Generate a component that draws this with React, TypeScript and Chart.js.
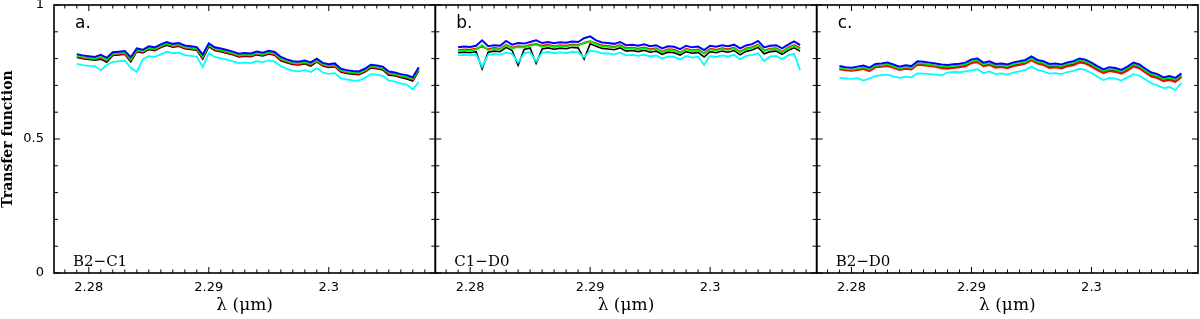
import React, { useEffect, useRef } from 'react';
import { Chart, registerables } from 'chart.js';

Chart.register(...registerables);

// Wavelength grid (micron)
const WAVELENGTH = [2.2790, 2.2795, 2.2800, 2.2805, 2.2810, 2.2815, 2.2820, 2.2825, 2.2830, 2.2835, 2.2840, 2.2845, 2.2850, 2.2855, 2.2860, 2.2865, 2.2870, 2.2875, 2.2880, 2.2885, 2.2890, 2.2895, 2.2900, 2.2905, 2.2910, 2.2915, 2.2920, 2.2925, 2.2930, 2.2935, 2.2940, 2.2945, 2.2950, 2.2955, 2.2960, 2.2965, 2.2970, 2.2975, 2.2980, 2.2985, 2.2990, 2.2995, 2.3000, 2.3005, 2.3010, 2.3015, 2.3020, 2.3025, 2.3030, 2.3035, 2.3040, 2.3045, 2.3050, 2.3055, 2.3060, 2.3065, 2.3070, 2.3075];

const PANEL_TAGS = ['a.', 'b.', 'c.'];
const BASELINES = ['B2\u2212C1', 'C1\u2212D0', 'B2\u2212D0'];
const X_TICK_LABELS = ['2.28', '2.29', '2.3'];
const Y_TICK_LABELS = ['0', '0.5', '1'];
const X_TITLE = '\u03bb (\u03bcm)';
const Y_TITLE = 'Transfer function';

// Panel a: B2-C1
const A_BLUE = [0.816, 0.812, 0.809, 0.806, 0.814, 0.803, 0.824, 0.826, 0.828, 0.805, 0.838, 0.833, 0.846, 0.842, 0.853, 0.862, 0.855, 0.858, 0.849, 0.846, 0.843, 0.815, 0.857, 0.842, 0.838, 0.832, 0.826, 0.818, 0.821, 0.819, 0.826, 0.822, 0.829, 0.825, 0.806, 0.797, 0.790, 0.788, 0.793, 0.786, 0.800, 0.784, 0.779, 0.782, 0.762, 0.757, 0.754, 0.752, 0.762, 0.777, 0.774, 0.770, 0.752, 0.748, 0.742, 0.738, 0.730, 0.768];
const A_GREEN = [0.810, 0.806, 0.803, 0.800, 0.806, 0.795, 0.818, 0.820, 0.822, 0.797, 0.832, 0.827, 0.840, 0.836, 0.847, 0.856, 0.849, 0.852, 0.843, 0.840, 0.837, 0.807, 0.851, 0.836, 0.832, 0.826, 0.820, 0.812, 0.815, 0.813, 0.820, 0.816, 0.823, 0.819, 0.799, 0.791, 0.784, 0.782, 0.787, 0.780, 0.793, 0.778, 0.773, 0.776, 0.756, 0.751, 0.748, 0.746, 0.756, 0.771, 0.768, 0.764, 0.746, 0.742, 0.736, 0.732, 0.724, 0.760];
const A_RED = [0.807, 0.803, 0.800, 0.797, 0.803, 0.792, 0.815, 0.817, 0.819, 0.794, 0.829, 0.824, 0.837, 0.833, 0.844, 0.855, 0.846, 0.849, 0.840, 0.837, 0.834, 0.804, 0.850, 0.833, 0.829, 0.823, 0.817, 0.809, 0.812, 0.810, 0.817, 0.813, 0.820, 0.816, 0.796, 0.788, 0.781, 0.779, 0.784, 0.777, 0.790, 0.775, 0.770, 0.773, 0.753, 0.748, 0.745, 0.743, 0.753, 0.768, 0.765, 0.761, 0.743, 0.739, 0.733, 0.729, 0.721, 0.757];
const A_BLACK = [0.804, 0.800, 0.797, 0.794, 0.798, 0.786, 0.812, 0.814, 0.816, 0.788, 0.826, 0.821, 0.834, 0.830, 0.841, 0.850, 0.843, 0.846, 0.837, 0.834, 0.831, 0.798, 0.845, 0.830, 0.826, 0.820, 0.814, 0.806, 0.809, 0.807, 0.814, 0.810, 0.817, 0.813, 0.792, 0.785, 0.778, 0.776, 0.781, 0.772, 0.788, 0.772, 0.767, 0.770, 0.750, 0.745, 0.742, 0.740, 0.750, 0.765, 0.762, 0.758, 0.738, 0.736, 0.730, 0.724, 0.716, 0.754];
const A_CYAN = [0.780, 0.776, 0.773, 0.772, 0.757, 0.776, 0.788, 0.790, 0.792, 0.766, 0.750, 0.797, 0.809, 0.806, 0.816, 0.826, 0.820, 0.822, 0.813, 0.810, 0.807, 0.768, 0.820, 0.806, 0.801, 0.796, 0.790, 0.783, 0.785, 0.783, 0.790, 0.787, 0.793, 0.789, 0.772, 0.762, 0.754, 0.752, 0.757, 0.750, 0.764, 0.748, 0.743, 0.746, 0.727, 0.722, 0.719, 0.718, 0.728, 0.742, 0.740, 0.736, 0.718, 0.714, 0.708, 0.703, 0.685, 0.712];

// Panel b: C1-D0
const B_BLUE = [0.842, 0.845, 0.843, 0.848, 0.868, 0.846, 0.850, 0.848, 0.866, 0.852, 0.858, 0.856, 0.862, 0.868, 0.858, 0.862, 0.857, 0.861, 0.859, 0.864, 0.862, 0.876, 0.883, 0.868, 0.860, 0.858, 0.855, 0.862, 0.850, 0.852, 0.848, 0.853, 0.846, 0.850, 0.838, 0.846, 0.844, 0.835, 0.848, 0.842, 0.845, 0.832, 0.848, 0.844, 0.850, 0.846, 0.852, 0.838, 0.849, 0.854, 0.866, 0.842, 0.848, 0.850, 0.838, 0.852, 0.864, 0.850];
const B_GREEN = [0.828, 0.831, 0.829, 0.834, 0.850, 0.832, 0.836, 0.834, 0.850, 0.838, 0.843, 0.842, 0.848, 0.852, 0.844, 0.848, 0.843, 0.847, 0.845, 0.850, 0.848, 0.860, 0.866, 0.854, 0.846, 0.844, 0.841, 0.848, 0.836, 0.838, 0.834, 0.839, 0.832, 0.836, 0.824, 0.832, 0.830, 0.821, 0.834, 0.828, 0.831, 0.818, 0.834, 0.830, 0.836, 0.832, 0.838, 0.824, 0.835, 0.840, 0.850, 0.828, 0.834, 0.836, 0.824, 0.838, 0.848, 0.836];
const B_RED = [0.832, 0.834, 0.833, 0.837, 0.845, 0.835, 0.840, 0.837, 0.852, 0.841, 0.846, 0.845, 0.851, 0.855, 0.848, 0.852, 0.846, 0.850, 0.848, 0.853, 0.851, 0.858, 0.864, 0.857, 0.849, 0.847, 0.844, 0.851, 0.839, 0.841, 0.837, 0.842, 0.835, 0.839, 0.826, 0.835, 0.833, 0.823, 0.837, 0.831, 0.834, 0.820, 0.837, 0.833, 0.839, 0.835, 0.841, 0.826, 0.838, 0.843, 0.852, 0.830, 0.837, 0.839, 0.826, 0.841, 0.851, 0.839];
const B_BLACK = [0.822, 0.824, 0.822, 0.826, 0.762, 0.824, 0.828, 0.826, 0.842, 0.830, 0.775, 0.834, 0.840, 0.782, 0.836, 0.840, 0.835, 0.839, 0.837, 0.842, 0.840, 0.798, 0.855, 0.846, 0.838, 0.836, 0.833, 0.840, 0.828, 0.830, 0.826, 0.831, 0.824, 0.828, 0.816, 0.824, 0.822, 0.813, 0.826, 0.820, 0.823, 0.806, 0.826, 0.822, 0.828, 0.824, 0.830, 0.814, 0.827, 0.832, 0.842, 0.818, 0.826, 0.828, 0.816, 0.830, 0.840, 0.828];
const B_CYAN = [0.812, 0.814, 0.812, 0.815, 0.770, 0.814, 0.817, 0.815, 0.822, 0.818, 0.785, 0.820, 0.824, 0.790, 0.822, 0.825, 0.820, 0.823, 0.821, 0.825, 0.823, 0.805, 0.830, 0.826, 0.820, 0.819, 0.816, 0.822, 0.812, 0.814, 0.810, 0.815, 0.808, 0.812, 0.800, 0.808, 0.806, 0.797, 0.810, 0.804, 0.807, 0.776, 0.810, 0.806, 0.812, 0.808, 0.814, 0.798, 0.810, 0.814, 0.820, 0.790, 0.808, 0.810, 0.798, 0.812, 0.818, 0.757];

// Panel c: B2-D0
const C_BLUE = [0.772, 0.768, 0.766, 0.770, 0.774, 0.766, 0.780, 0.782, 0.785, 0.778, 0.770, 0.775, 0.772, 0.790, 0.788, 0.785, 0.782, 0.778, 0.776, 0.779, 0.781, 0.785, 0.797, 0.800, 0.785, 0.790, 0.780, 0.782, 0.778, 0.786, 0.790, 0.795, 0.808, 0.795, 0.790, 0.780, 0.782, 0.778, 0.786, 0.790, 0.800, 0.796, 0.785, 0.772, 0.760, 0.768, 0.765, 0.758, 0.770, 0.785, 0.778, 0.762, 0.748, 0.742, 0.730, 0.735, 0.728, 0.745];
const C_GREEN = [0.765, 0.761, 0.759, 0.763, 0.767, 0.759, 0.773, 0.775, 0.778, 0.771, 0.763, 0.768, 0.765, 0.783, 0.781, 0.778, 0.775, 0.771, 0.769, 0.772, 0.774, 0.778, 0.790, 0.793, 0.778, 0.783, 0.773, 0.775, 0.771, 0.779, 0.783, 0.788, 0.800, 0.788, 0.783, 0.773, 0.775, 0.771, 0.779, 0.783, 0.793, 0.789, 0.778, 0.765, 0.753, 0.761, 0.758, 0.751, 0.763, 0.778, 0.771, 0.755, 0.741, 0.735, 0.723, 0.728, 0.721, 0.738];
const C_RED = [0.760, 0.756, 0.754, 0.757, 0.761, 0.753, 0.767, 0.769, 0.772, 0.765, 0.757, 0.762, 0.759, 0.777, 0.775, 0.772, 0.769, 0.764, 0.762, 0.765, 0.767, 0.771, 0.783, 0.786, 0.771, 0.776, 0.766, 0.768, 0.764, 0.772, 0.776, 0.781, 0.793, 0.781, 0.776, 0.765, 0.767, 0.763, 0.771, 0.775, 0.785, 0.781, 0.770, 0.757, 0.745, 0.753, 0.750, 0.743, 0.755, 0.770, 0.763, 0.747, 0.733, 0.727, 0.715, 0.720, 0.713, 0.730];
const C_BLACK = [0.762, 0.758, 0.756, 0.760, 0.764, 0.756, 0.770, 0.772, 0.775, 0.768, 0.760, 0.765, 0.762, 0.780, 0.778, 0.775, 0.772, 0.768, 0.766, 0.769, 0.771, 0.775, 0.787, 0.790, 0.775, 0.780, 0.770, 0.772, 0.768, 0.776, 0.780, 0.785, 0.798, 0.785, 0.780, 0.770, 0.772, 0.768, 0.776, 0.780, 0.790, 0.786, 0.775, 0.762, 0.750, 0.758, 0.755, 0.748, 0.760, 0.775, 0.768, 0.752, 0.738, 0.732, 0.720, 0.725, 0.718, 0.735];
const C_CYAN = [0.728, 0.726, 0.724, 0.727, 0.718, 0.726, 0.735, 0.738, 0.740, 0.734, 0.728, 0.733, 0.730, 0.745, 0.744, 0.742, 0.740, 0.738, 0.748, 0.750, 0.749, 0.752, 0.756, 0.760, 0.746, 0.752, 0.742, 0.745, 0.740, 0.748, 0.752, 0.758, 0.770, 0.758, 0.752, 0.744, 0.746, 0.742, 0.750, 0.754, 0.762, 0.758, 0.746, 0.732, 0.720, 0.728, 0.725, 0.718, 0.730, 0.742, 0.736, 0.722, 0.708, 0.700, 0.690, 0.694, 0.683, 0.710];

const PANEL_SERIES = [
  { blue: A_BLUE, cyan: A_CYAN, green: A_GREEN, red: A_RED, black: A_BLACK },
  { blue: B_BLUE, cyan: B_CYAN, green: B_GREEN, red: B_RED, black: B_BLACK },
  { blue: C_BLUE, cyan: C_CYAN, green: C_GREEN, red: C_RED, black: C_BLACK },
];

const LAYERS: { key: 'blue' | 'cyan' | 'green' | 'red' | 'black'; color: string; width: number }[] = [
  { key: 'blue', color: '#0000ff', width: 2 },
  { key: 'cyan', color: '#00ffff', width: 1.8 },
  { key: 'green', color: '#00ee00', width: 1.8 },
  { key: 'red', color: '#ff0000', width: 1.8 },
  { key: 'black', color: '#000000', width: 1.6 },
];

const X_IDS = ['x0', 'x1', 'x2'];

const framePlugin = {
  id: 'panelFrames',
  afterDatasetsDraw(chart: any) {
    const ctx = chart.ctx as CanvasRenderingContext2D;
    const { top, bottom } = chart.chartArea;
    const ys = chart.scales.y;
    ctx.save();
    X_IDS.forEach((id, p) => {
      const xs = chart.scales[id];
      const left = xs.left;
      const right = xs.right;
      ctx.strokeStyle = '#000';
      ctx.lineWidth = 1;
      ctx.beginPath();
      xs.ticks.forEach((t: any) => {
        if (t.value < xs.min || t.value > xs.max) return;
        const px = xs.getPixelForValue(t.value);
        const len = t.label ? 6 : 3.5;
        ctx.moveTo(px, bottom);
        ctx.lineTo(px, bottom - len);
        ctx.moveTo(px, top);
        ctx.lineTo(px, top + len);
      });
      ys.ticks.forEach((t: any) => {
        const py = ys.getPixelForValue(t.value);
        const len = t.label ? 6 : 4;
        ctx.moveTo(left, py);
        ctx.lineTo(left + len, py);
        ctx.moveTo(right, py);
        ctx.lineTo(right - len, py);
      });
      ctx.stroke();
      ctx.lineWidth = 1.6;
      ctx.strokeRect(left, top, right - left, bottom - top);

      ctx.fillStyle = '#000';
      ctx.textAlign = 'left';
      ctx.textBaseline = 'alphabetic';
      ctx.font = "17px 'DejaVu Sans'";
      ctx.fillText(PANEL_TAGS[p], left + 21, top + 23);
      ctx.font = "15px 'DejaVu Serif'";
      ctx.fillText(BASELINES[p], left + 19, bottom - 7);
    });
    ctx.restore();
  },
};

export default function App() {
  const ref = useRef<HTMLCanvasElement>(null);

  useEffect(() => {
    const canvas = ref.current;
    if (!canvas) return;
    Chart.defaults.font.family = "'DejaVu Sans'";
    Chart.defaults.color = '#000';

    const datasets: any[] = [];
    LAYERS.forEach((layer) => {
      PANEL_SERIES.forEach((panel, p) => {
        const values = panel[layer.key];
        datasets.push({
          label: `${BASELINES[p]} ${layer.key}`,
          data: WAVELENGTH.map((x, i) => ({ x, y: values[i] })),
          xAxisID: X_IDS[p],
          yAxisID: 'y',
          borderColor: layer.color,
          backgroundColor: layer.color,
          borderWidth: layer.width,
          pointRadius: 0,
          tension: 0,
          fill: false,
        });
      });
    });

    const xScale = (): any => ({
      type: 'linear',
      position: 'bottom',
      stack: 'panels',
      stackWeight: 1,
      min: 2.2771,
      max: 2.30888,
      afterFit: (s: any) => {
        s.height = 46;
        s.paddingLeft = 0;
        s.paddingRight = 0;
      },
      grid: { display: false, drawTicks: false },
      border: { display: false },
      ticks: {
        stepSize: 0.001,
        includeBounds: false,
        autoSkip: false,
        maxRotation: 0,
        minRotation: 0,
        padding: 7,
        color: '#000',
        font: { family: "'DejaVu Sans'", size: 13 },
        callback: (v: number) => {
          const s = String(Math.round(v * 1000) / 1000);
          return X_TICK_LABELS.includes(s) ? s : '';
        },
      },
      title: {
        display: true,
        text: X_TITLE,
        color: '#000',
        font: { family: "'DejaVu Serif'", size: 17 },
        padding: { top: 0, bottom: 3 },
      },
    });

    const chart = new Chart(canvas, {
      type: 'line',
      data: { datasets },
      options: {
        animation: false,
        responsive: false,
        devicePixelRatio: 1,
        layout: { padding: { top: 5, right: 2, left: 0, bottom: 0 } },
        plugins: { legend: { display: false }, tooltip: { enabled: false } },
        scales: {
          y: {
            min: 0,
            max: 1,
            position: 'left',
            afterFit: (s: any) => {
              s.width = 54;
              s.paddingTop = 0;
              s.paddingBottom = 0;
            },
            grid: { display: false, drawTicks: false },
            border: { display: false },
            ticks: {
              stepSize: 0.1,
              autoSkip: false,
              padding: 10,
              color: '#000',
              font: { family: "'DejaVu Sans'", size: 13 },
              callback: (v: number) => {
                const s = String(Math.round(v * 10) / 10);
                return Y_TICK_LABELS.includes(s) ? s : '';
              },
            },
            title: {
              display: true,
              text: Y_TITLE,
              color: '#000',
              font: { family: "'DejaVu Serif'", size: 14, weight: 'bold' },
              padding: { top: 0, bottom: 0 },
            },
          },
          x0: xScale(),
          x1: xScale(),
          x2: xScale(),
        } as any,
      },
      plugins: [framePlugin],
    });
    return () => chart.destroy();
  }, []);

  return (
    <canvas
      ref={ref}
      width={1200}
      height={319}
      style={{ position: 'fixed', left: 0, top: 0, display: 'block', background: '#fff' }}
    />
  );
}
